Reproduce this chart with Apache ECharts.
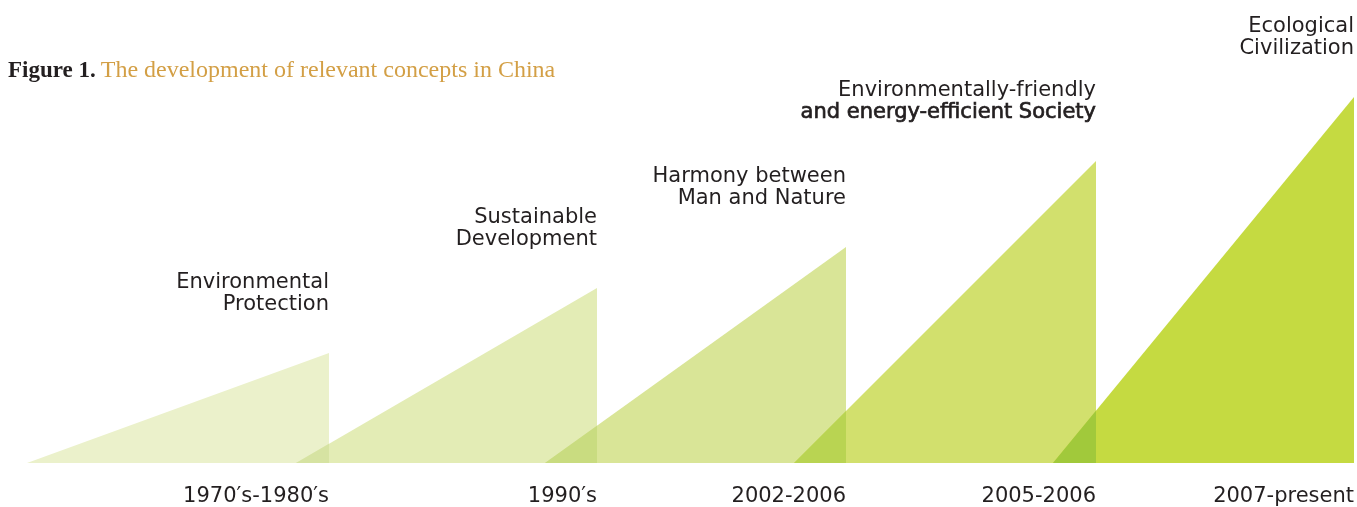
<!DOCTYPE html>
<html>
<head>
<meta charset="utf-8">
<script src="https://cdn.jsdelivr.net/npm/echarts@6/dist/echarts.min.js"></script>
<style>
html,body{margin:0;padding:0;background:#fff;}
#chart{width:1357px;height:507px;}
</style>
</head>
<body>
<div id="chart"></div>
<script>
const periods = ["1970\u2032s-1980\u2032s", "1990\u2032s", "2002-2006", "2005-2006", "2007-present"];
const conceptLine1 = ["Environmental", "Sustainable", "Harmony between", "Environmentally-friendly", "Ecological"];
const conceptLine2 = ["Protection", "Development", "Man and Nature", "and energy-efficient Society", "Civilization"];
const startX = [27, 296, 545, 794, 1053];
const endX = [329, 597, 846, 1096, 1354];
const heights = [110, 175, 216, 302, 366];

const fills = ["#ebf1cb", "#e3ecb5", "#d9e597", "#d2e06d", "#c5da41"];
const overlapFills = ["#d6e3a2", "#c9dc80", "#b9d452", "#a1c93b"];
const FONT = 'DejaVu Sans';
const INK = '#231f20';

const data = periods.map((p, i) => [startX[i], endX[i], heights[i], i]);

function textEl(x, y, str, heavy) {
  const style = {
    text: str, x: 0, y: 0,
    align: 'right', verticalAlign: 'middle',
    fontFamily: FONT, fontSize: 21, fill: INK
  };
  if (heavy) { style.stroke = INK; style.lineWidth = 0.7; }
  return { type: 'text', x: x, y: y, style: style };
}

const chart = echarts.init(document.getElementById('chart'));
chart.setOption({
  animation: false,
  backgroundColor: '#ffffff',
  title: {
    left: 3, top: 54,
    text: '{a|Figure 1.} {b|The development of relevant concepts in China}',
    textStyle: {
      rich: {
        a: { fontFamily: 'Liberation Serif', fontSize: 23, fontWeight: 'bold', color: INK },
        b: { fontFamily: 'Liberation Serif', fontSize: 24, fontWeight: 'normal', color: '#d39f45' }
      }
    }
  },
  grid: { left: 0, right: 0, top: 0, bottom: 44 },
  xAxis: { type: 'value', min: 0, max: 1357, show: false },
  yAxis: { type: 'value', min: 0, max: 463, show: false },
  series: [{
    type: 'custom',
    data: data,
    renderItem: function (params, api) {
      const x0 = api.value(0), x1 = api.value(1), h = api.value(2), i = api.value(3);
      const pL = api.coord([x0, 0]);
      const pR = api.coord([x1, 0]);
      const pT = api.coord([x1, h]);
      const children = [
        {
          type: 'polygon',
          shape: { points: [pL, pR, pT] },
          style: { fill: fills[i] }
        }
      ];
      // overlap with the previous triangle (darker where they cross)
      if (i > 0) {
        const qR = api.coord([endX[i - 1], 0]);
        const t = (qR[0] - pL[0]) / (pT[0] - pL[0]);
        const yy = pL[1] + t * (pT[1] - pL[1]);
        children.push({
          type: 'polygon',
          shape: { points: [pL, qR, [qR[0], yy]] },
          style: { fill: overlapFills[i - 1] }
        });
      }
      children.push(textEl(pT[0], pT[1] - 70, conceptLine1[i], false));
      children.push(textEl(pT[0], pT[1] - 48, conceptLine2[i], i === 3));
      children.push(textEl(pR[0], pR[1] + 34, periods[i], false));
      return { type: 'group', children: children };
    }
  }]
});
</script>
</body>
</html>
